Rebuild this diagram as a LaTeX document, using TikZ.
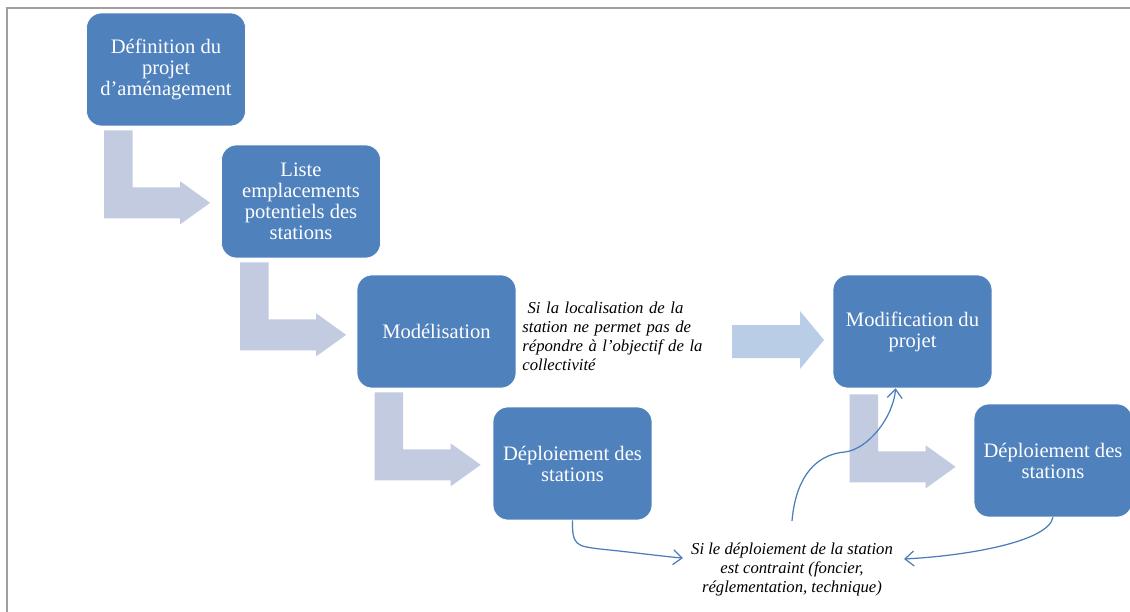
\documentclass[tikz,border=0pt]{standalone}
\usepackage{fontspec}
\setmainfont{Liberation Serif}
\usetikzlibrary{arrows.meta,calc}
\definecolor{boxblue}{HTML}{4F81BD}
\definecolor{linkblue}{HTML}{4A7EBB}
\definecolor{bentfill}{HTML}{C2CBDF}
\definecolor{straightfill}{HTML}{B9CEE6}
\definecolor{framegray}{HTML}{A0A0A0}
\begin{document}
\begin{tikzpicture}[x=0.02cm,y=-0.02cm,
  stage/.style={rounded corners=0.3cm, fill=boxblue, draw=white, line width=0.4pt,
    minimum width=3.18cm, minimum height=2.26cm, text=white, align=center,
    font=\fontsize{11.7}{12}\selectfont, inner sep=2pt},
  conn/.style={draw=linkblue, line width=0.7pt,
    -{Straight Barb[length=5pt,width=8.5pt,line width=0.7pt]}},
  notetext/.style={font=\itshape\fontsize{9.5}{10.8}\selectfont, text=black, inner sep=0pt},
  pics/bentarrow/.style={code={
    \fill[bentfill] (0,0) -- (28.5,0) -- (28.5,57) -- (76,57) -- (76,51)
      -- (106,72.5) -- (76,94) -- (76,88) -- (0,88) -- cycle;}}
]
\useasboundingbox (0,0) rectangle (1130,612);
\clip (0,0) rectangle (1130,612);
\fill[white] (0,0) rectangle (1130,612);
% frame
\draw[framegray, line width=1.3pt] (7,640) -- (7,8) -- (1160,8);

% stages
\node[stage] (def) at (166,69.5) {Définition du\\projet\\d’aménagement};
\node[stage] (liste) at (301,201.5) {Liste\\emplacements\\potentiels des\\stations};
\node[stage] (model) at (436.5,331.5) {Modélisation};
\node[stage] (dep1) at (572.5,463.5) {Déploiement des\\stations};
\node[stage] (mod) at (912.5,331.5) {Modification du\\projet};
\node[stage, minimum width=3.16cm] (dep2) at (1053,460.5) {Déploiement des\\stations};

% bent arrows
\pic at ($(def.south west)+(18,4)$) {bentarrow};
\pic at ($(liste.south west)+(19,4)$) {bentarrow};
\pic at ($(model.south west)+(18,4)$) {bentarrow};
\pic at ($(mod.south west)+(17,6)$) {bentarrow};

% side note
\node[notetext, text width=102.6pt, align=left] (note) at (612.5,336) {%
\makebox[102.6pt][s]{\hspace{3pt}Si la localisation de la}\\
\makebox[102.6pt][s]{station ne permet pas de}\\
\makebox[102.6pt][s]{répondre à l’objectif de la}\\
collectivité};

% straight arrow
\fill[straightfill] (732,325) -- (800,325) -- (800,311) -- (824,340) -- (800,369)
  -- (800,358) -- (732,358) -- cycle;

% condition text
\node[notetext, align=center] (cond) at (792,569) {Si le déploiement de la station\\est contraint (foncier,\\réglementation, technique)};

% curved connectors
\draw[conn] (dep1.south) .. controls (572,546) and (577,546) .. (600,549)
  .. controls (630,552) and (660,556) .. ([xshift=-4.5pt,yshift=6.2pt]cond.west);
\draw[conn] (dep2.south) .. controls +(-5,25) and +(60,-3) .. ([xshift=6.2pt,yshift=5.7pt]cond.east);
\draw[conn] ([yshift=12pt]cond.north) .. controls (795,485) and (810,455) .. (845,452)
  .. controls (868,449) and (893,418) .. ([xshift=-9.6pt]mod.south);
\end{tikzpicture}
\end{document}
